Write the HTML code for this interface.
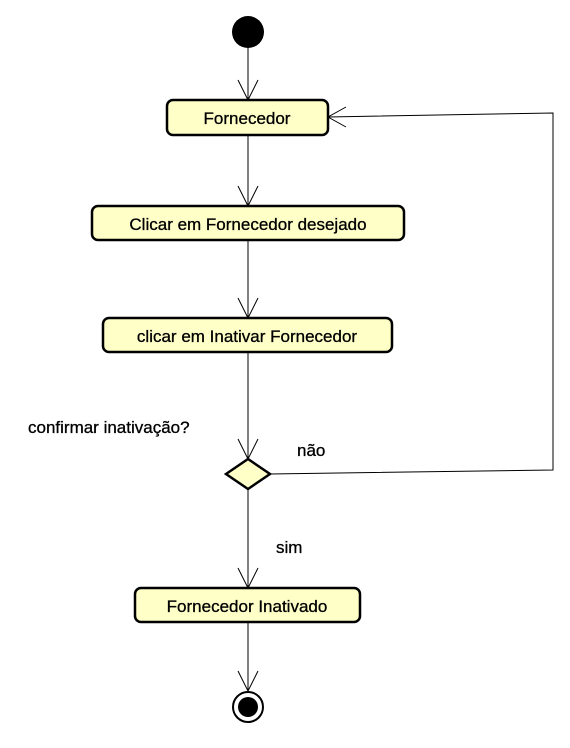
<!DOCTYPE html>
<html><head><meta charset="utf-8"><style>
body{margin:0;background:#fff;width:570px;height:743px;overflow:hidden}
</style></head><body>
<svg width="570" height="743" viewBox="0 0 570 743" xmlns="http://www.w3.org/2000/svg" font-family="Liberation Sans, sans-serif" font-size="17">
<g stroke="#000" stroke-width="1" fill="none">
<line x1="248" y1="48" x2="248" y2="100"/><polyline points="238,80 248,100 258,80"/>
<line x1="248" y1="135" x2="248" y2="206"/><polyline points="238,186 248,206 258,186"/>
<line x1="248" y1="240" x2="248" y2="318"/><polyline points="238,298 248,318 258,298"/>
<line x1="248" y1="352" x2="248" y2="459"/><polyline points="238,439 248,459 258,439"/>
<line x1="248" y1="489" x2="248" y2="588"/><polyline points="238,568 248,588 258,568"/>
<line x1="248" y1="622" x2="248" y2="691"/><polyline points="238,671 248,671 258,671" stroke="none"/><polyline points="238,671 248,691 258,671"/>
<polyline points="270,474 553,470 553,113 328,117"/><polyline points="346,107 328,117 346,127"/>
</g>
<circle cx="248" cy="32" r="16" fill="#000"/>
<g fill="#ffffc8" stroke="#000" stroke-width="2.5">
<rect x="167" y="100" width="161" height="35" rx="6"/>
<rect x="92" y="206" width="312" height="34" rx="6"/>
<rect x="103" y="318" width="289" height="34" rx="6"/>
<rect x="135" y="588" width="225" height="34" rx="6"/>
<polygon points="226,474 248,459 270,474 248,489"/>
</g>
<circle cx="248" cy="707" r="15" fill="#fff" stroke="#000" stroke-width="2"/>
<circle cx="248" cy="707" r="10" fill="#000"/>
<g fill="#000" text-anchor="middle" stroke="#000" stroke-width="0.3">
<text x="247" y="124">Fornecedor</text>
<text x="248" y="230">Clicar em Fornecedor desejado</text>
<text x="247" y="342">clicar em Inativar Fornecedor</text>
<text x="247" y="612">Fornecedor Inativado</text>
</g>
<g fill="#000" stroke="#000" stroke-width="0.3">
<text x="28" y="433">confirmar inativação?</text>
<text x="297" y="456">não</text>
<text x="276" y="553">sim</text>
</g>
</svg>
</body></html>
